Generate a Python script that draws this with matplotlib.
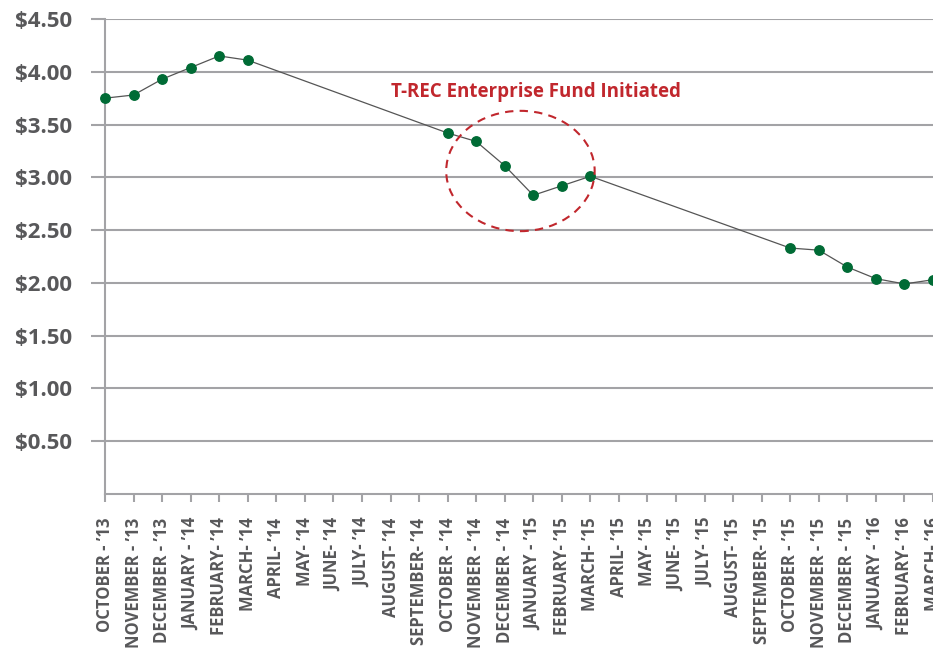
import matplotlib
matplotlib.use("Agg")
import matplotlib.pyplot as plt
from matplotlib.patches import Ellipse
import numpy as np

months = ["OCTOBER - \u201913", "NOVEMBER - \u201913", "DECEMBER - \u201913",
          "JANUARY - \u201914", "FEBRUARY- \u201914", "MARCH- \u201914", "APRIL- \u201914",
          "MAY- \u201914", "JUNE- \u201914", "JULY- \u201914", "AUGUST- \u201914",
          "SEPTEMBER- \u201914", "OCTOBER - \u201914", "NOVEMBER - \u201914",
          "DECEMBER - \u201914", "JANUARY - \u201915", "FEBRUARY- \u201915", "MARCH- \u201915",
          "APRIL- \u201915", "MAY- \u201915", "JUNE- \u201915", "JULY- \u201915",
          "AUGUST- \u201915", "SEPTEMBER- \u201915", "OCTOBER - \u201915",
          "NOVEMBER - \u201915", "DECEMBER - \u201915", "JANUARY - \u201916",
          "FEBRUARY- \u201916", "MARCH- \u201916"]

# price per month (None = no reading)
prices = [3.75, 3.78, 3.93, 4.04, 4.15, 4.11,
          None, None, None, None, None, None,
          3.42, 3.34, 3.11, 2.83, 2.92, 3.01,
          None, None, None, None, None, None,
          2.33, 2.31, 2.15, 2.04, 1.99, 2.03]

yticks = [0.5, 1.0, 1.5, 2.0, 2.5, 3.0, 3.5, 4.0, 4.5]
ytick_labels = ["$%.2f" % v for v in yticks]

note = "T-REC Enterprise Fund Initiated"

grid_col = "#a3a3a6"
text_col = "#58585a"
green = "#006b35"
red = "#c1272d"

plt.rcParams['font.family'] = ['Open Sans', 'DejaVu Sans']

fig = plt.figure(figsize=(9.33, 6.55), dpi=100)
ax = fig.add_axes([105 / 933, 161 / 655, 1 - 105 / 933, 475 / 655])

xs = [i for i, p in enumerate(prices) if p is not None]
ys = [p for p in prices if p is not None]
ax.plot(xs, ys, color="#555555", lw=0.9, zorder=3, clip_on=False)
ax.plot(xs, ys, 'o', color=green, ms=6.8, mec=green, zorder=4, clip_on=False)

ax.set_xlim(0, 28.9)
ax.set_ylim(0, 4.5)
ax.set_yticks(yticks)
ax.set_yticklabels(ytick_labels)
ax.set_xticks(range(len(months)))
ax.set_xticklabels(months, rotation=90, va='top', ha='center')

ax.yaxis.grid(True, color=grid_col, lw=1.5)
ax.set_axisbelow(True)
for s in ['top', 'right']:
    ax.spines[s].set_visible(False)
for s in ['left', 'bottom']:
    ax.spines[s].set_color(grid_col)
    ax.spines[s].set_linewidth(1.5)

ax.tick_params(axis='y', length=10, width=1.5, color=grid_col, pad=14,
               labelsize=16, labelcolor=text_col)
ax.tick_params(axis='x', length=6, width=1.5, color=grid_col, pad=11,
               labelsize=12, labelcolor=text_col)
for lab in ax.get_yticklabels() + ax.get_xticklabels():
    lab.set_fontweight('bold')

# annotation: dashed circle round the fund start
ell = Ellipse((14.55, 3.06), 5.2, 1.14, fill=False, ls=(0, (4, 3)),
              ec=red, lw=1.5, zorder=5)
ax.add_patch(ell)
ax.text(15.1, 3.81, note, color=red, fontsize=13.5, fontweight='bold',
        ha='center', va='center')

fig.savefig("out.png", dpi=100)
